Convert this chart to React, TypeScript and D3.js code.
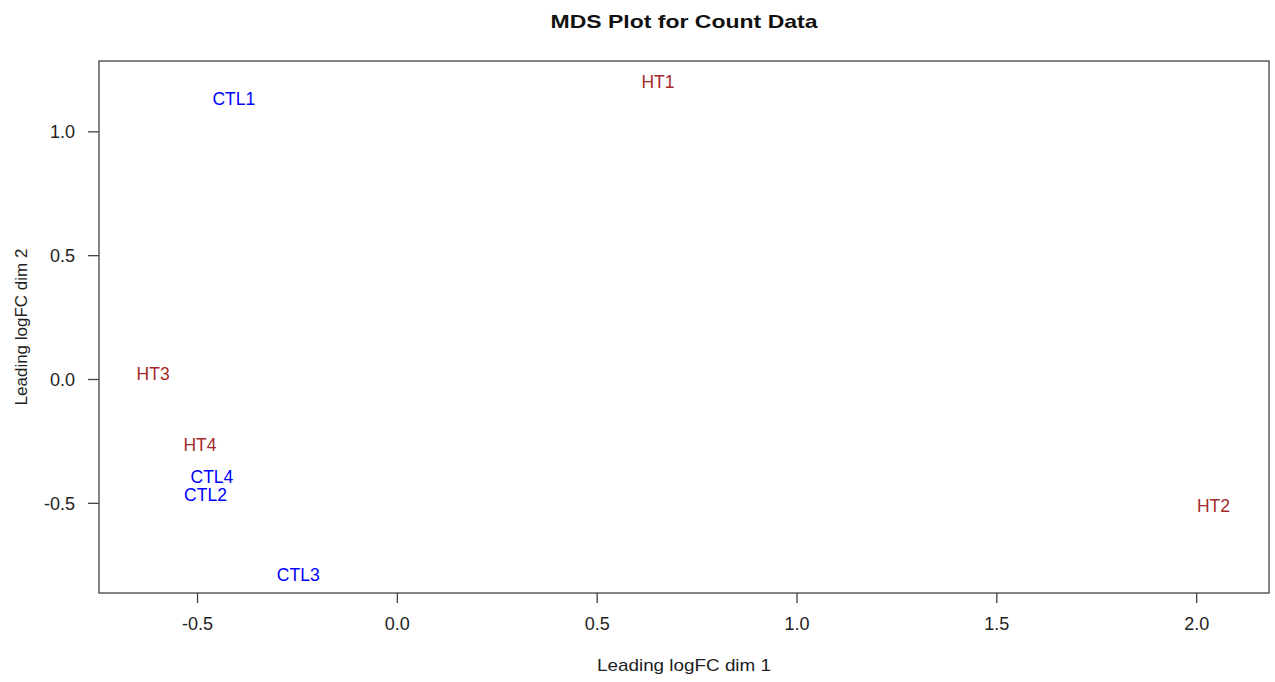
import React from "react";
import * as d3 from "d3";

const sampleNames = ["CTL1", "HT1", "HT3", "HT4", "CTL4", "CTL2", "CTL3", "HT2"];
const dim1 = [-0.409, 0.652, -0.611, -0.494, -0.464, -0.48, -0.248, 2.042];
const dim2 = [1.134, 1.201, 0.022, -0.262, -0.392, -0.464, -0.787, -0.509];
const groups = ["CTL", "HT", "HT", "HT", "CTL", "CTL", "CTL", "HT"];
const xTicks = [-0.5, 0.0, 0.5, 1.0, 1.5, 2.0];
const yTicks = [-0.5, 0.0, 0.5, 1.0];
const groupColors: Record<string, string> = { CTL: "#0000ff", HT: "#a52a2a" };

const fmt = (t: number) => d3.format(".1f")(t).replace("\u2212", "-");

export default function App() {
  const W = 1275, H = 682;
  const left = 99, right = 1269, top = 61, bottom = 593;
  const x = d3.scaleLinear().domain([-0.7465, 2.181]).range([left, right]);
  const y = d3.scaleLinear().domain([1.286, -0.862]).range([top, bottom]);
  const font = "'Liberation Sans', Arial, sans-serif";
  const axisColor = "#444";
  return (
    <svg width={W} height={H} style={{ position: "absolute", left: 0, top: 0 }} fontFamily={font}>
      <rect x={0} y={0} width={W} height={H} fill="#fff" />
      <text x={(left + right) / 2} y={28} textAnchor="middle" fontWeight="bold" fontSize={19}
        textLength={267} lengthAdjust="spacingAndGlyphs" fill="#111">MDS Plot for Count Data</text>
      <rect x={left} y={top} width={right - left} height={bottom - top} fill="none" stroke={axisColor} strokeWidth={1.3} />
      {xTicks.map((t) => (
        <g key={"x" + t}>
          <line x1={x(t)} x2={x(t)} y1={bottom} y2={bottom + 10} stroke={axisColor} strokeWidth={1.3} />
          <text x={x(t)} y={630} textAnchor="middle" fontSize={18} fill="#222">{fmt(t)}</text>
        </g>
      ))}
      {yTicks.map((t) => (
        <g key={"y" + t}>
          <line x1={left - 11} x2={left} y1={y(t)} y2={y(t)} stroke={axisColor} strokeWidth={1.3} />
          <text x={75} y={y(t)} dy="0.36em" textAnchor="end" fontSize={18} fill="#222">{fmt(t)}</text>
        </g>
      ))}
      <text x={(left + right) / 2} y={671} textAnchor="middle" fontSize={17} fill="#222"
        textLength={174} lengthAdjust="spacingAndGlyphs">Leading logFC dim 1</text>
      <text transform={`translate(27,${(top + bottom) / 2}) rotate(-90)`} textAnchor="middle" fontSize={17} fill="#222">Leading logFC dim 2</text>
      {sampleNames.map((n, i) => (
        <text key={n} x={x(dim1[i])} y={y(dim2[i])} dy="0.36em" textAnchor="middle" fontSize={17.5}
          fill={groupColors[groups[i]]}>{n}</text>
      ))}
    </svg>
  );
}
